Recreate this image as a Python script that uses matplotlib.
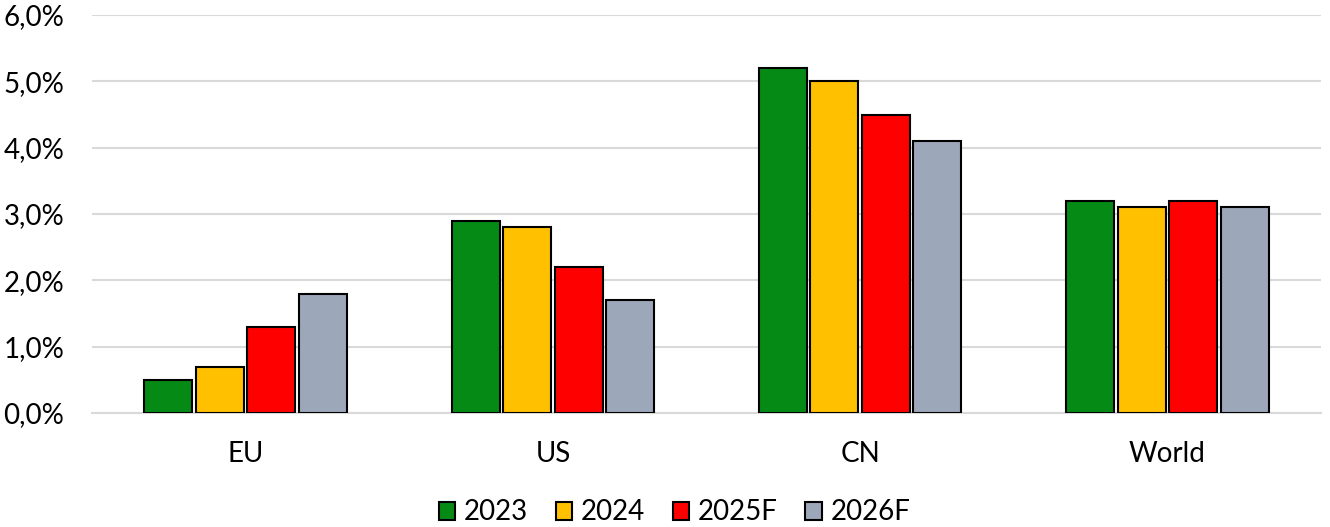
import numpy as np
import matplotlib.pyplot as plt
from matplotlib.ticker import FuncFormatter

# data
regions = ["EU", "US", "CN", "World"]
series = ["2023", "2024", "2025F", "2026F"]
v2023 = [0.5, 2.9, 5.2, 3.2]
v2024 = [0.7, 2.8, 5.0, 3.1]
v2025 = [1.3, 2.2, 4.5, 3.2]
v2026 = [1.8, 1.7, 4.1, 3.1]
colors = ["#058A16", "#FFC000", "#FF0000", "#9CA7BA"]

plt.rcParams["font.family"] = ["Lato", "DejaVu Sans"]

fig = plt.figure(figsize=(13.3, 5.27), dpi=100)
ax = fig.add_axes([92 / 1330, 114 / 527, (1321 - 92) / 1330, (413 - 15) / 527])

x = np.arange(len(regions))
step = 0.1676
width = 0.156
for i, (vals, name) in enumerate(zip([v2023, v2024, v2025, v2026], series)):
    ax.bar(x + (i - 1.5) * step, vals, width, color=colors[i], edgecolor="black",
           linewidth=1.5, label=name, zorder=3)

ax.set_xlim(-0.5, 3.5)
ax.set_ylim(0, 6)
ax.set_yticks(np.arange(0, 7, 1))
ax.yaxis.set_major_formatter(FuncFormatter(lambda v, p: f"{v:.1f}%".replace(".", ",")))
ax.set_xticks(x)
ax.set_xticklabels(regions)
ax.tick_params(axis="y", length=0, pad=20, labelsize=20)
ax.tick_params(axis="x", length=0, pad=20, labelsize=20)
ax.grid(axis="y", color="#D9D9D9", linewidth=1.5, zorder=0)
for s in ["top", "right", "left"]:
    ax.spines[s].set_visible(False)
ax.spines["bottom"].set_color("#D9D9D9")
ax.spines["bottom"].set_linewidth(1.5)

ax.legend(loc="center", bbox_to_anchor=(0.474, -0.25), ncol=4, frameon=False,
          fontsize=20, handlelength=0.6, handleheight=0.6, handletextpad=0.3,
          columnspacing=1.0)

fig.savefig("out.png", dpi=100)
